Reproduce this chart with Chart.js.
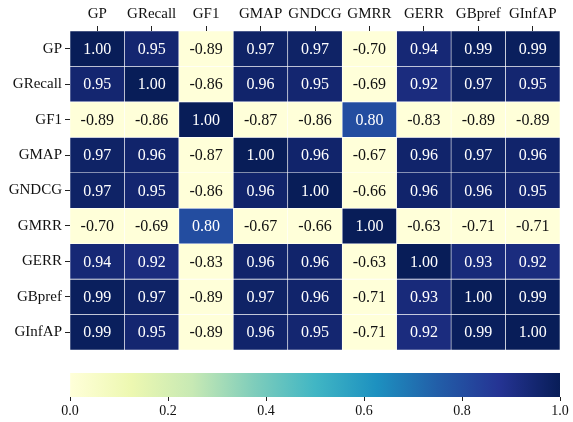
<!DOCTYPE html>
<html>
<head>
<meta charset="utf-8">
<script src="https://cdn.jsdelivr.net/npm/chart.js@4"></script>
<style>
  body { margin: 0; background: #fff; }
  #mapa { position: absolute; left: 0; top: 0; }
  #barra { position: absolute; left: 0; top: 360px; }
</style>
</head>
<body>
<canvas id="mapa" width="573" height="362"></canvas>
<canvas id="barra" width="573" height="62"></canvas>
<script>
// metricas (filas y columnas)
const metricas = ['GP', 'GRecall', 'GF1', 'GMAP', 'GNDCG', 'GMRR', 'GERR', 'GBpref', 'GInfAP'];

// correlaciones, una lista por fila
const filaGP      = [1.00, 0.95, -0.89, 0.97, 0.97, -0.70, 0.94, 0.99, 0.99];
const filaGRecall = [0.95, 1.00, -0.86, 0.96, 0.95, -0.69, 0.92, 0.97, 0.95];
const filaGF1     = [-0.89, -0.86, 1.00, -0.87, -0.86, 0.80, -0.83, -0.89, -0.89];
const filaGMAP    = [0.97, 0.96, -0.87, 1.00, 0.96, -0.67, 0.96, 0.97, 0.96];
const filaGNDCG   = [0.97, 0.95, -0.86, 0.96, 1.00, -0.66, 0.96, 0.96, 0.95];
const filaGMRR    = [-0.70, -0.69, 0.80, -0.67, -0.66, 1.00, -0.63, -0.71, -0.71];
const filaGERR    = [0.94, 0.92, -0.83, 0.96, 0.96, -0.63, 1.00, 0.93, 0.92];
const filaGBpref  = [0.99, 0.97, -0.89, 0.97, 0.96, -0.71, 0.93, 1.00, 0.99];
const filaGInfAP  = [0.99, 0.95, -0.89, 0.96, 0.95, -0.71, 0.92, 0.99, 1.00];

// ticks de la barra de color
const ticksBarra = [0.0, 0.2, 0.4, 0.6, 0.8, 1.0];

const matriz = [filaGP, filaGRecall, filaGF1, filaGMAP, filaGNDCG, filaGMRR, filaGERR, filaGBpref, filaGInfAP];

// paleta YlGnBu
const paleta = ['#ffffd9', '#edf8b1', '#c7e9b4', '#7fcdbb', '#41b6c4', '#1d91c0', '#225ea8', '#253494', '#081d58'];
const fuente = "'Liberation Serif', 'DejaVu Serif', serif";

function hexRgb(h){
    return [parseInt(h.substr(1,2),16), parseInt(h.substr(3,2),16), parseInt(h.substr(5,2),16)];
}

function colorRgb(v){
    v = Math.max(0, Math.min(1, v));
    var pos = v * (paleta.length - 1);
    var i = Math.min(Math.floor(pos), paleta.length - 2);
    var t = pos - i;
    var a = hexRgb(paleta[i]), b = hexRgb(paleta[i+1]);
    return [0,1,2].map(k => Math.round(a[k] + (b[k] - a[k]) * t));
}

function color(v){
    var c = colorRgb(v);
    return 'rgb(' + c[0] + ',' + c[1] + ',' + c[2] + ')';
}

function colorTexto(v){
    var c = colorRgb(v).map(x => {
        x = x / 255;
        return x <= 0.03928 ? x / 12.92 : Math.pow((x + 0.055) / 1.055, 2.4);
    });
    var lum = 0.2126 * c[0] + 0.7152 * c[1] + 0.0722 * c[2];
    return lum > 0.408 ? '#111' : '#fff';
}

// escribe los valores en cada celda
const etiquetas = {
    id: 'etiquetas',
    afterDatasetsDraw(chart){
        var ctx = chart.ctx;
        ctx.save();
        ctx.font = '16px ' + fuente;
        ctx.textAlign = 'center';
        ctx.textBaseline = 'middle';
        chart.data.datasets.forEach(function(ds, f){
            var meta = chart.getDatasetMeta(f);
            meta.data.forEach(function(el, c){
                var v = matriz[f][c];
                var p = el.getProps(['x', 'y', 'base'], true);
                ctx.fillStyle = colorTexto(v);
                ctx.fillText(v.toFixed(2), p.x, (p.y + p.base) / 2 + 1);
            });
        });
        ctx.restore();
    }
};

new Chart(document.getElementById('mapa'), {
    type: 'bar',
    data: {
        labels: metricas,
        datasets: matriz.map(function(fila, f){
            return {
                label: metricas[f],
                data: fila.map(() => [f, f + 1]),
                backgroundColor: fila.map(color),
                borderColor: '#ffffff',
                borderWidth: 0.6,
                borderSkipped: false,
                grouped: false,
                barPercentage: 1,
                categoryPercentage: 1
            };
        })
    },
    options: {
        responsive: false,
        animation: false,
        layout: { padding: { left: 0, right: 13, top: 0, bottom: 9 } },
        plugins: { legend: { display: false }, tooltip: { enabled: false } },
        scales: {
            x: {
                position: 'top',
                grid: { offset: false, drawOnChartArea: false, drawTicks: true, tickLength: 5, color: '#222' },
                border: { display: false },
                ticks: { color: '#111', font: { family: fuente, size: 15 }, padding: 3, maxRotation: 0, autoSkip: false },
                afterFit: function(s){ s.height = 31; }
            },
            y: {
                min: 0,
                max: metricas.length,
                reverse: true,
                afterBuildTicks: function(s){
                    s.ticks = metricas.map((m, i) => ({ value: i + 0.5 }));
                },
                grid: { drawOnChartArea: false, drawTicks: true, tickLength: 5, color: '#222' },
                border: { display: false },
                ticks: {
                    color: '#111',
                    font: { family: fuente, size: 15 },
                    padding: 3,
                    autoSkip: false,
                    callback: function(v, i){ return metricas[i]; }
                },
                afterFit: function(s){ s.width = 70; }
            }
        }
    },
    plugins: [etiquetas]
});

// barra de color
new Chart(document.getElementById('barra'), {
    type: 'bar',
    data: {
        labels: [''],
        datasets: [{
            data: [[ticksBarra[0], ticksBarra[ticksBarra.length - 1]]],
            backgroundColor: function(c){
                var area = c.chart.chartArea;
                if(!area) return paleta[0];
                var g = c.chart.ctx.createLinearGradient(area.left, 0, area.right, 0);
                paleta.forEach((p, i) => g.addColorStop(i / (paleta.length - 1), p));
                return g;
            },
            borderWidth: 0,
            barPercentage: 1,
            categoryPercentage: 1
        }]
    },
    options: {
        indexAxis: 'y',
        responsive: false,
        animation: false,
        layout: { padding: { left: 70, right: 13, top: 13, bottom: 0 } },
        plugins: { legend: { display: false }, tooltip: { enabled: false } },
        scales: {
            x: {
                min: 0,
                max: 1,
                afterBuildTicks: function(s){
                    s.ticks = ticksBarra.map(v => ({ value: v }));
                },
                grid: { drawOnChartArea: false, drawTicks: true, tickLength: 4, color: '#222' },
                border: { display: false },
                ticks: {
                    color: '#111',
                    font: { family: fuente, size: 14 },
                    padding: 2,
                    maxRotation: 0,
                    callback: function(v){ return v.toFixed(1); }
                },
                afterFit: function(s){ s.height = 25; }
            },
            y: { display: false }
        }
    }
});
</script>
</body>
</html>
